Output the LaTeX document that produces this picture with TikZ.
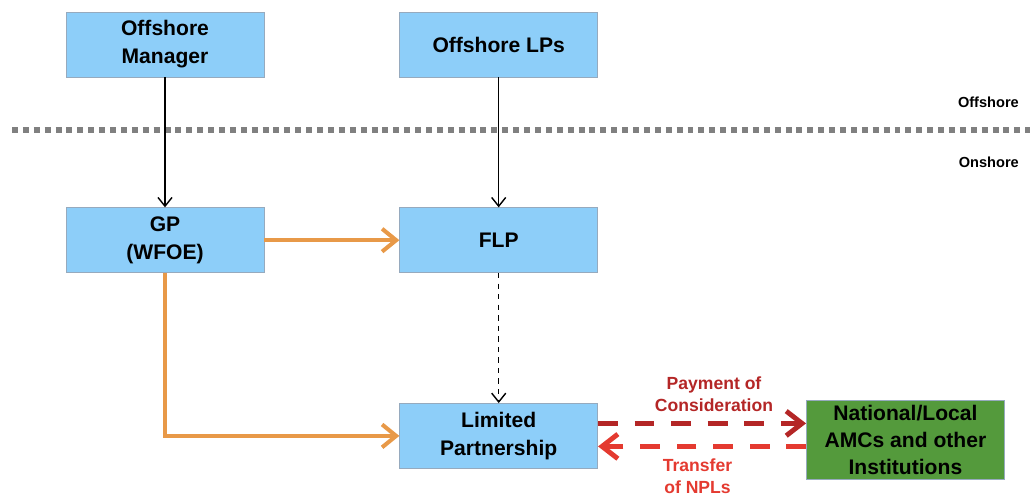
\documentclass[tikz,border=0pt]{standalone}
\usepackage{fontspec}
\setmainfont{Liberation Sans}
\usetikzlibrary{arrows.meta,positioning,calc}
\usepackage{xcolor}
\definecolor{boxblue}{RGB}{141,206,249}
\definecolor{boxedge}{RGB}{150,170,190}
\definecolor{amcgreen}{RGB}{84,154,60}
\definecolor{flowor}{RGB}{232,153,72}
\definecolor{paydark}{RGB}{180,38,38}
\definecolor{nplred}{RGB}{228,58,48}

\begin{document}
\begin{tikzpicture}[>={Straight Barb[length=5pt,width=8pt]},
    entity/.style={draw=boxedge,fill=boxblue,minimum width=3.96cm,minimum height=1.3cm,align=center,font=\bfseries\fontsize{12}{16}\selectfont},
    orflow/.style={-{Straight Barb[length=8pt,width=13pt]},line width=2.3pt,flowor},
    redflow/.style={-{Straight Barb[length=9pt,width=14pt]},line width=2.8pt,dash pattern=on 11.3pt off 9.5pt},
    flowlabel/.style={align=center,font=\bfseries\fontsize{10}{12.5}\selectfont},
    sidelabel/.style={anchor=east,font=\bfseries\fontsize{8.3}{10}\selectfont}]
    \useasboundingbox (0,0) rectangle (20.6,-9.9);
	\node (offman) [entity] at (3.3,-0.89) {Offshore\\Manager};
	\node (offlp) [entity,right=2.7cm of offman] {Offshore LPs};
    \node (gp) [entity,below=2.6cm of offman] {GP\\(WFOE)};
    \node (flp) [entity,below=2.6cm of offlp] {FLP};
    \node (lp) [entity,below=2.6cm of flp] {Limited\\Partnership};
    \node (amc) [entity,fill=amcgreen,minimum height=1.58cm,inner sep=1pt,font=\bfseries\fontsize{12}{15.2}\selectfont,right=4.16cm of lp,yshift=-0.08cm] {National/Local\\AMCs and other\\Institutions};
    \node (offtxt) [sidelabel] at (20.5,-2.04) {Offshore};
    \node (ontxt) [sidelabel] at (20.5,-3.24) {Onshore};
    \coordinate (borderL) at (0.24,-2.6);
    \coordinate (borderR) at (20.6,-2.6);
    \draw [gray,line width=3.4pt,dash pattern=on 3.4pt off 2.8pt] (borderL) -- (borderR);
    \draw [->,thick] (offman) -- (gp);
    \draw [->,thick] (offlp) -- (flp);
    \draw [->,thick,dashed] (flp) -- (lp);
    \draw [orflow] (gp) -- (flp);
    \draw [orflow] (gp.south) |- (lp.west);
    \draw [redflow,paydark] ([yshift=0.25cm]lp.east) -- ([yshift=0.25cm]lp.east -| amc.west);
    \draw [redflow,nplred] ([yshift=-0.13cm]amc.west) -- ([yshift=-0.13cm]amc.west -| lp.east);
    \node (paytxt) [flowlabel,text=paydark] at (14.28,-7.88) {Payment of\\Consideration};
    \node (npltxt) [flowlabel,text=nplred] at (13.95,-9.52) {Transfer\\of NPLs};
\end{tikzpicture}
\end{document}
